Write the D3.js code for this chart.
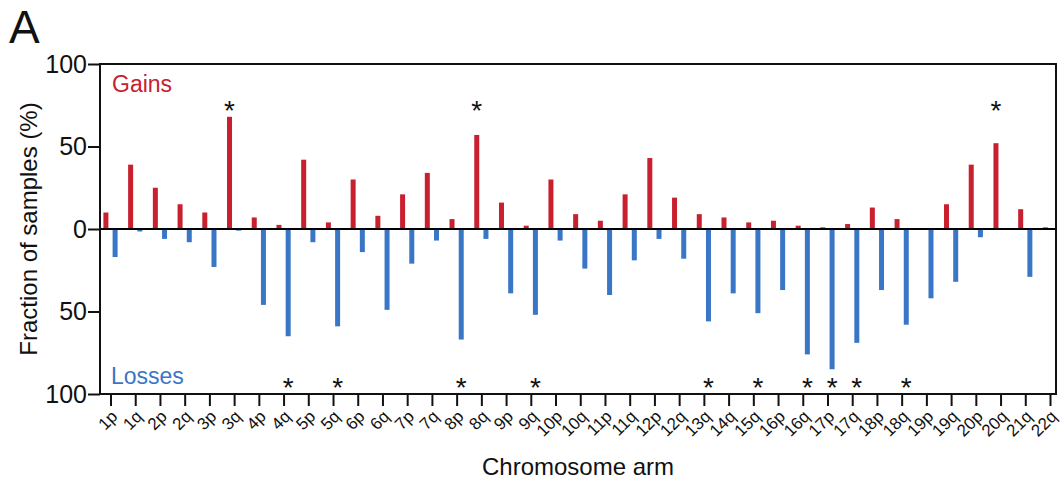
<!DOCTYPE html>
<html>
<head>
<meta charset="utf-8">
<script src="https://cdn.jsdelivr.net/npm/d3@7"></script>
<style>
  html, body { margin: 0; padding: 0; background: #fff; }
  svg { display: block; font-family: "Liberation Sans", Arial, Helvetica, sans-serif; }
</style>
</head>
<body>
<svg id="chart" width="1064" height="484"></svg>
<script>
const categories = ["1p","1q","2p","2q","3p","3q","4p","4q","5p","5q","6p","6q","7p","7q","8p","8q","9p","9q","10p","10q","11p","11q","12p","12q","13q","14q","15q","16p","16q","17p","17q","18p","18q","19p","19q","20p","20q","21q","22q"];
const gains  = [10,39,25,15,10,68,7,2.5,42,4,30,8,21,34,6,57,16,2,30,9,5,21,43,19,9,7,4,5,2,1,3,13,6,0,15,39,52,12,1];
const losses = [17,1.5,6,8,23,1,46,65,8,59,14,49,21,7,67,6,39,52,7,24,40,19,6,18,56,39,51,37,76,85,69,37,58,42,32,5,0,29,0];
const gainStars = ["3q","8q","20q"];
const lossStars = ["4q","5q","8p","9q","13q","15q","16q","17p","17q","18q"];
const yTickValues = [100, 50, 0, -50, -100];

const svg = d3.select("#chart");
const L = 100, R = 1056, T = 64, B = 394;
const RED = "#c8202f", BLUE = "#3a76c6";

const x = d3.scalePoint().domain(categories).range([110.5, 1050]);
const y = d3.scaleLinear().domain([-100, 100]).range([B, T]);

const data = categories.map((c, i) => ({c, g: gains[i], l: losses[i]}));
const bw = 5, off = 4.6;

// bars
svg.append("g").selectAll("rect").data(data).join("rect")
  .attr("x", d => x(d.c) - off - bw/2)
  .attr("y", d => y(d.g))
  .attr("width", bw)
  .attr("height", d => y(0) - y(d.g))
  .attr("fill", RED);
svg.append("g").selectAll("rect").data(data).join("rect")
  .attr("x", d => x(d.c) + off - bw/2)
  .attr("y", y(0))
  .attr("width", bw)
  .attr("height", d => y(-d.l) - y(0))
  .attr("fill", BLUE);

// zero line
svg.append("line").attr("x1", L).attr("x2", R).attr("y1", y(0)).attr("y2", y(0))
  .attr("stroke", "#000").attr("stroke-width", 2);

// frame
svg.append("rect").attr("x", L).attr("y", T).attr("width", R - L).attr("height", B - T)
  .attr("fill", "none").attr("stroke", "#111").attr("stroke-width", 2);

// y axis
const yAxis = d3.axisLeft(y).tickValues(yTickValues).tickFormat(d => Math.abs(d)).tickSize(12).tickPadding(1);
const gy = svg.append("g").attr("transform", `translate(${L},0)`).call(yAxis);
gy.select(".domain").remove();
gy.selectAll(".tick line").attr("stroke", "#111").attr("stroke-width", 2);
gy.selectAll(".tick text").attr("font-size", 25).attr("fill", "#111")
  .attr("font-family", "Liberation Sans, Arial, sans-serif");

// x axis
const xAxis = d3.axisBottom(x).tickSize(12).tickSizeOuter(0);
const gx = svg.append("g").attr("transform", `translate(0,${B})`).call(xAxis);
gx.select(".domain").remove();
gx.selectAll(".tick line").attr("stroke", "#111").attr("stroke-width", 2);
gx.selectAll(".tick text")
  .attr("font-size", 17).attr("fill", "#111")
  .attr("font-family", "Liberation Sans, Arial, sans-serif")
  .attr("text-anchor", "end")
  .attr("y", 0).attr("dy", "0.71em")
  .attr("transform", "translate(-1,15) rotate(-45)");

// stars
svg.append("g").selectAll("text").data(gainStars).join("text")
  .attr("x", d => x(d) - off).attr("y", 120)
  .attr("text-anchor", "middle").attr("font-size", 28).attr("fill", "#111").text("*");
svg.append("g").selectAll("text").data(lossStars).join("text")
  .attr("x", d => x(d) + off).attr("y", 397)
  .attr("text-anchor", "middle").attr("font-size", 28).attr("fill", "#111").text("*");

// labels
svg.append("text").attr("x", 112).attr("y", 92).attr("font-size", 23).attr("fill", RED).text("Gains");
svg.append("text").attr("x", 111).attr("y", 384).attr("font-size", 23).attr("fill", BLUE).text("Losses");
svg.append("text").attr("x", 9).attr("y", 43).attr("font-size", 46).attr("fill", "#111").text("A");
svg.append("text").attr("x", 578).attr("y", 475).attr("text-anchor", "middle")
  .attr("font-size", 24).attr("fill", "#111").text("Chromosome arm");
svg.append("text").attr("transform", "translate(37,229) rotate(-90)").attr("text-anchor", "middle")
  .attr("font-size", 24).attr("fill", "#111").text("Fraction of samples (%)");
</script>
</body>
</html>
